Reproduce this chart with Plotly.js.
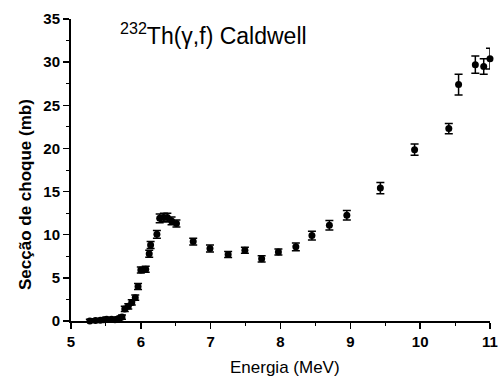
<!DOCTYPE html>
<html>
<head>
<meta charset="utf-8">
<script src="https://cdn.plot.ly/plotly-3.0.1.min.js"></script>
<style>html,body{margin:0;padding:0;background:#fff;}#chart{width:500px;height:383px;}</style>
</head>
<body>
<div id="chart"></div>
<script>
const energy = [5.27, 5.35, 5.42, 5.47, 5.51, 5.58, 5.63, 5.68, 5.73, 5.77, 5.82, 5.87, 5.92, 5.96, 6.00, 6.07, 6.12, 6.14, 6.23, 6.27, 6.33, 6.38, 6.44, 6.51, 6.75, 6.99, 7.25, 7.49, 7.73, 7.97, 8.22, 8.45, 8.70, 8.95, 9.43, 9.92, 10.41, 10.55, 10.79, 10.91, 11.0];
const sigma  = [0.0, 0.05, 0.1, 0.15, 0.2, 0.2, 0.15, 0.3, 0.45, 1.4, 1.7, 2.15, 2.7, 4.0, 5.9, 6.0, 7.8, 8.8, 10.05, 11.9, 12.0, 12.0, 11.6, 11.3, 9.2, 8.4, 7.7, 8.2, 7.2, 8.0, 8.6, 9.9, 11.1, 12.25, 15.4, 19.85, 22.3, 27.4, 29.7, 29.5, 30.4];
const sigmaErr = [0.2, 0.2, 0.2, 0.2, 0.2, 0.2, 0.2, 0.2, 0.25, 0.3, 0.3, 0.3, 0.3, 0.35, 0.35, 0.35, 0.4, 0.4, 0.45, 0.5, 0.5, 0.5, 0.45, 0.4, 0.4, 0.4, 0.35, 0.35, 0.35, 0.35, 0.45, 0.5, 0.55, 0.55, 0.65, 0.65, 0.6, 1.2, 1.0, 0.9, 1.2];
const xTicks = [5, 6, 7, 8, 9, 10, 11];
const yTicks = [0, 5, 10, 15, 20, 25, 30, 35];
const titleText = "<sup>232</sup>Th(γ,f) Caldwell";
const xTitle = "Energia (MeV)";
const yTitle = "Secção de choque (mb)";

const trace = {
  x: energy, y: sigma, type: 'scatter', mode: 'markers',
  marker: {symbol: 'circle', size: 7, color: '#000'},
  error_y: {type: 'data', array: sigmaErr, visible: true, color: '#000', thickness: 1.5, width: 4},
  cliponaxis: false, hoverinfo: 'none'
};

const fam = 'Liberation Sans, Arial, sans-serif';
const layout = {
  width: 500, height: 383,
  margin: {l: 71, r: 10, t: 19, b: 62},
  paper_bgcolor: '#fff', plot_bgcolor: '#fff',
  showlegend: false,
  font: {family: fam, color: '#000'},
  xaxis: {
    range: [5, 11], tickvals: xTicks, ticktext: xTicks.map(String),
    showgrid: false, zeroline: false, showline: true, linecolor: '#000', linewidth: 2,
    ticks: 'outside', ticklen: 6, tickwidth: 1.5, tickcolor: '#000',
    minor: {dtick: 0.5, ticks: 'outside', ticklen: 3, tickcolor: '#000', tickwidth: 1},
    tickfont: {family: fam, size: 15, color: '#000', weight: 'bold'}
  },
  yaxis: {
    range: [0, 35], tickvals: yTicks, ticktext: yTicks.map(String),
    showgrid: false, zeroline: false, showline: true, linecolor: '#000', linewidth: 2,
    ticks: 'outside', ticklen: 6, tickwidth: 1.5, tickcolor: '#000',
    minor: {dtick: 2.5, ticks: 'outside', ticklen: 3, tickcolor: '#000', tickwidth: 1},
    tickfont: {family: fam, size: 15, color: '#000', weight: 'bold'}
  },
  annotations: [
    {text: titleText, xref: 'paper', yref: 'paper', x: 0.112, y: (321 - 34) / 302,
     xanchor: 'left', yanchor: 'middle', showarrow: false,
     font: {family: fam, size: 23, color: '#000'}},
    {text: xTitle, xref: 'paper', yref: 'paper', x: (285 - 71) / 419, y: -(367 - 321) / 302,
     xanchor: 'center', yanchor: 'middle', showarrow: false,
     font: {family: fam, size: 17, color: '#000'}},
    {text: yTitle, xref: 'paper', yref: 'paper', x: -(71 - 25) / 419, y: (321 - 195) / 302,
     xanchor: 'center', yanchor: 'middle', showarrow: false, textangle: -90,
     font: {family: fam, size: 17, color: '#000', weight: 'bold'}}
  ]
};

Plotly.newPlot('chart', [trace], layout, {displayModeBar: false, staticPlot: true});
</script>
</body>
</html>
